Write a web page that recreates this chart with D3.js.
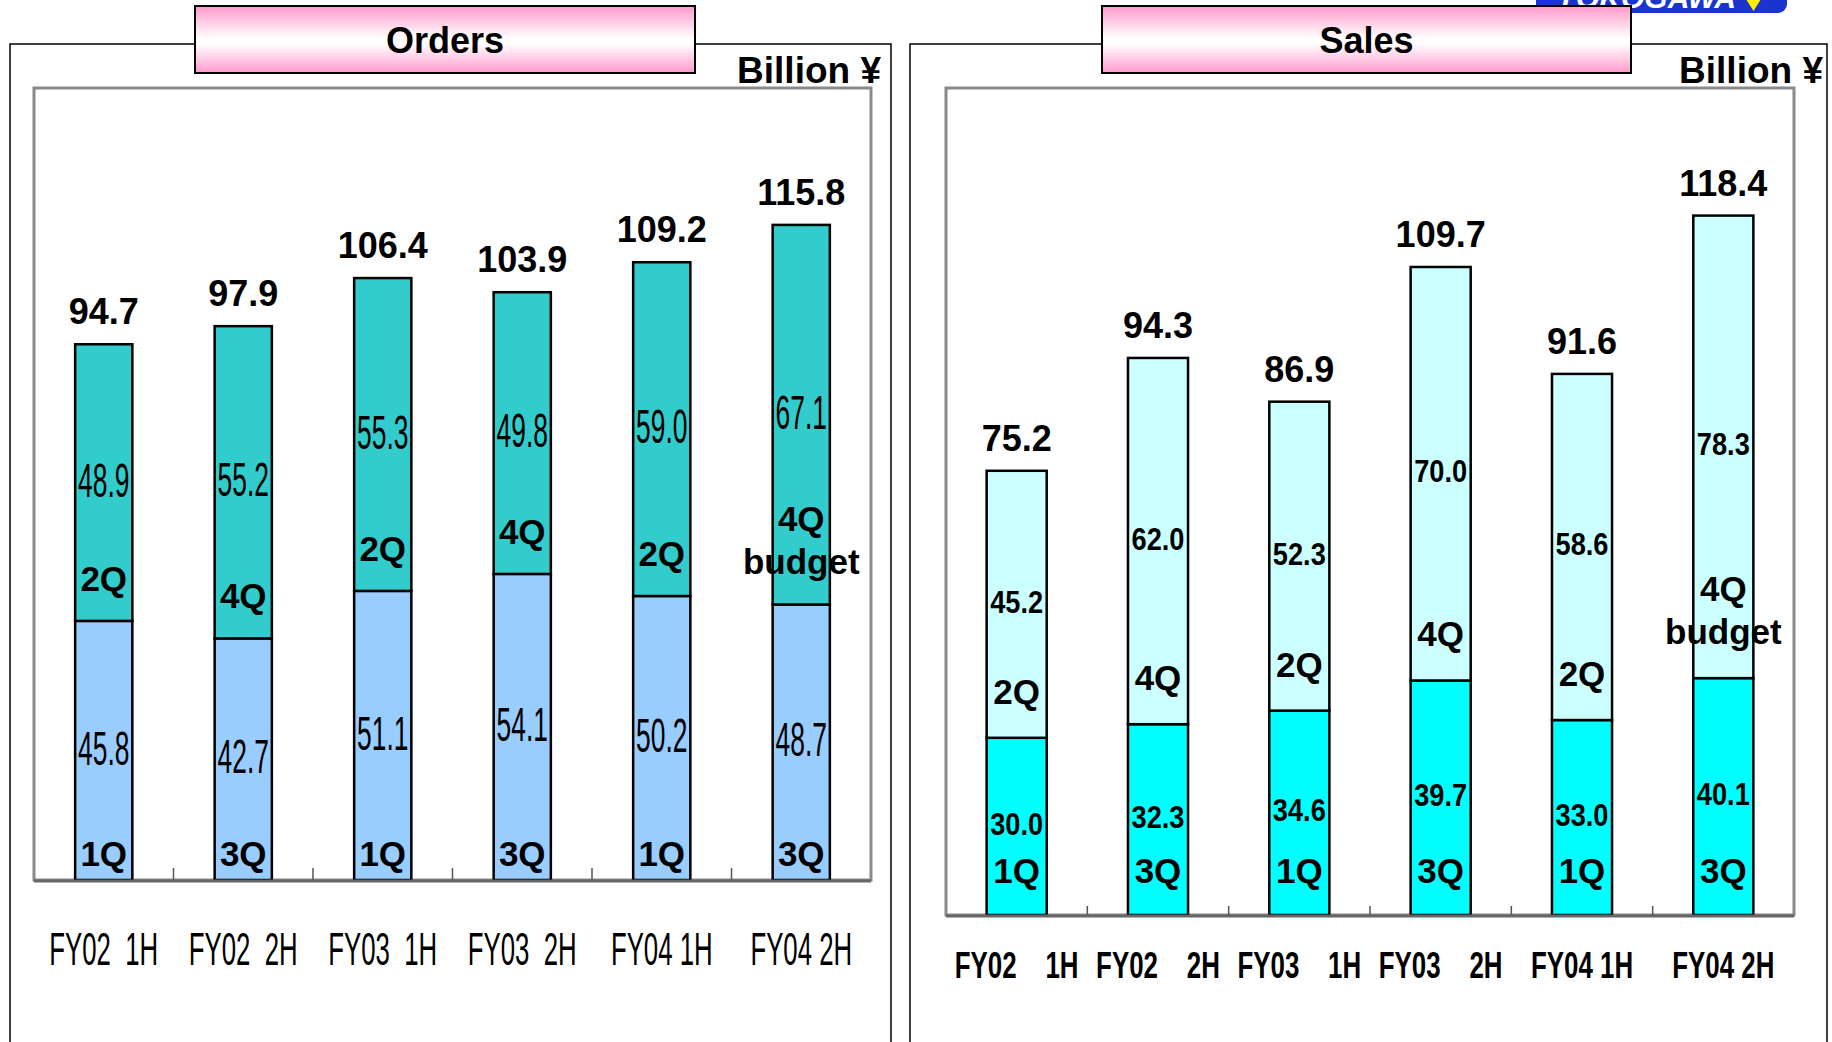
<!DOCTYPE html>
<html>
<head>
<meta charset="utf-8">
<script src="https://cdn.jsdelivr.net/npm/d3@7"></script>
<style>
  html, body { margin: 0; padding: 0; background: #fff; }
  svg text { font-family: "Liberation Sans", Arial, sans-serif; white-space: pre; }
</style>
</head>
<body>
<div id="chart"></div>
<script>
// categories (half years)
var categories = ["FY02  1H", "FY02  2H", "FY03  1H", "FY03  2H", "FY04 1H", "FY04 2H"];

// Orders, billion yen
var ordersLower = [45.8, 42.7, 51.1, 54.1, 50.2, 48.7];
var ordersUpper = [48.9, 55.2, 55.3, 49.8, 59.0, 67.1];
var ordersTotal = [94.7, 97.9, 106.4, 103.9, 109.2, 115.8];

// Sales, billion yen
var salesLower = [30.0, 32.3, 34.6, 39.7, 33.0, 40.1];
var salesUpper = [45.2, 62.0, 52.3, 70.0, 58.6, 78.3];
var salesTotal = [75.2, 94.3, 86.9, 109.7, 91.6, 118.4];

// quarter names written in the segments
var lowerQuarter = ["1Q", "3Q", "1Q", "3Q", "1Q", "3Q"];
var upperQuarter = [["2Q"], ["4Q"], ["2Q"], ["4Q"], ["2Q"], ["4Q", "budget"]];

var yMax = 140;

var W = 1832, H = 1042;
var svg = d3.select("#chart").append("svg")
  .attr("width", W)
  .attr("height", H);

// pink title gradient
var grad = svg.append("defs").append("linearGradient")
  .attr("id", "pink")
  .attr("x1", 0).attr("y1", 0).attr("x2", 0).attr("y2", 1);
grad.append("stop").attr("offset", "0%").attr("stop-color", "#ff99cc");
grad.append("stop").attr("offset", "48%").attr("stop-color", "#ffffff");
grad.append("stop").attr("offset", "56%").attr("stop-color", "#ffffff");
grad.append("stop").attr("offset", "100%").attr("stop-color", "#ff99cc");

// logo corner (mostly cut off at the top)
var logo = svg.append("g");
logo.append("rect")
  .attr("x", 1536).attr("y", -24)
  .attr("width", 251).attr("height", 37)
  .attr("rx", 9)
  .attr("fill", "#1a35cf");
logo.append("text")
  .attr("x", 1646).attr("y", 8)
  .attr("text-anchor", "middle")
  .attr("font-size", 30)
  .attr("font-weight", "bold")
  .attr("font-style", "italic")
  .attr("fill", "#ffffff")
  .text("YOKOGAWA");
logo.append("path")
  .attr("d", "M1744,-4 L1763,-4 L1753.5,11 Z")
  .attr("fill", "#ffee00");

// scaled text helper (the original uses stretched fonts)
function label(g, x, y, txt, size, weight, sx) {
  g.append("g")
    .attr("transform", "translate(" + x + "," + y + ") scale(" + sx + ",1)")
    .append("text")
    .attr("text-anchor", "middle")
    .attr("font-size", size)
    .attr("font-weight", weight)
    .attr("fill", "#000")
    .text(txt);
}

function drawPanel(cfg) {
  var g = svg.append("g");

  // outer frame, open at the bottom
  g.append("path")
    .attr("d", "M" + cfg.fx0 + "," + (H + 5) + " L" + cfg.fx0 + ",44 L" + cfg.fx1 + ",44 L" + cfg.fx1 + "," + (H + 5))
    .attr("fill", "none")
    .attr("stroke", "#000")
    .attr("stroke-width", 1.5);

  // title box
  g.append("rect")
    .attr("x", cfg.tx0).attr("y", 6)
    .attr("width", cfg.tx1 - cfg.tx0).attr("height", 67)
    .attr("fill", "url(#pink)")
    .attr("stroke", "#000")
    .attr("stroke-width", 2);
  g.append("text")
    .attr("x", (cfg.tx0 + cfg.tx1) / 2).attr("y", 53)
    .attr("text-anchor", "middle")
    .attr("font-size", 36)
    .attr("font-weight", "bold")
    .text(cfg.title);

  // unit
  g.append("text")
    .attr("x", cfg.unitX).attr("y", 83)
    .attr("text-anchor", "end")
    .attr("font-size", 37)
    .attr("font-weight", "bold")
    .text("Billion \u00a5");

  // plot area
  g.append("rect")
    .attr("x", cfg.px0).attr("y", cfg.py0)
    .attr("width", cfg.px1 - cfg.px0).attr("height", cfg.py1 - cfg.py0)
    .attr("fill", "#fff")
    .attr("stroke", "#8a8a8a")
    .attr("stroke-width", 3);

  var x = d3.scaleBand()
    .domain(categories)
    .range([cfg.px0, cfg.px1])
    .paddingInner(cfg.pad)
    .paddingOuter(cfg.pad / 2);
  var y = d3.scaleLinear()
    .domain([0, yMax])
    .range([cfg.py1, cfg.py0]);

  var step = x.step(), bw = x.bandwidth();

  // ticks between categories
  g.selectAll(".tick").data(categories.slice(1))
    .enter().append("line")
    .attr("x1", function(d) { return x(d) - (step - bw) / 2; })
    .attr("x2", function(d) { return x(d) - (step - bw) / 2; })
    .attr("y1", y(0))
    .attr("y2", y(0) - cfg.tickLen)
    .attr("stroke", "#555")
    .attr("stroke-width", 1.5);

  // bars
  var rows = categories.map(function(c, i) {
    return { cat: c, lo: cfg.lower[i], up: cfg.upper[i], tot: cfg.total[i], i: i };
  });

  g.selectAll(".lo").data(rows).enter().append("rect")
    .attr("x", function(d) { return x(d.cat); })
    .attr("y", function(d) { return y(d.lo); })
    .attr("width", bw)
    .attr("height", function(d) { return y(0) - y(d.lo); })
    .attr("fill", cfg.colLower)
    .attr("stroke", "#000")
    .attr("stroke-width", 2.5);

  g.selectAll(".up").data(rows).enter().append("rect")
    .attr("x", function(d) { return x(d.cat); })
    .attr("y", function(d) { return y(d.lo + d.up); })
    .attr("width", bw)
    .attr("height", function(d) { return y(d.lo) - y(d.lo + d.up); })
    .attr("fill", cfg.colUpper)
    .attr("stroke", "#000")
    .attr("stroke-width", 2.5);

  // base line
  g.append("line")
    .attr("x1", cfg.px0).attr("x2", cfg.px1)
    .attr("y1", y(0) + 1).attr("y2", y(0) + 1)
    .attr("stroke", "#666")
    .attr("stroke-width", 3);

  var vf = cfg.valueFont, cf = cfg.catFont;

  rows.forEach(function(d) {
    var cx = x(d.cat) + bw / 2;
    var capV = vf.size * 0.716;

    // segment values
    label(g, cx, (y(0) + y(d.lo)) / 2 + capV / 2 - 3, d.lo.toFixed(1), vf.size, vf.weight, vf.sx);
    label(g, cx, (y(d.lo) + y(d.lo + d.up)) / 2 + capV / 2 - 3, d.up.toFixed(1), vf.size, vf.weight, vf.sx);

    // quarter names
    label(g, cx, y(0) - cfg.loQ, lowerQuarter[d.i], 35, "bold", 1);
    var lines = upperQuarter[d.i];
    lines.slice().reverse().forEach(function(t, k) {
      label(g, cx, y(d.lo) - cfg.upQ - k * 43, t, 35, "bold", 1);
    });

    // totals
    label(g, cx, y(d.tot) - 20, d.tot.toFixed(1), 36, "bold", 1);

    // category
    label(g, cx, cf.y, d.cat.replace("  ", cf.gap), cf.size, cf.weight, cf.sx);
  });
}

drawPanel({
  title: "Orders",
  fx0: 10, fx1: 891,
  tx0: 195, tx1: 695,
  unitX: 881,
  px0: 34, px1: 871, py0: 88, py1: 880,
  pad: 0.59, tickLen: 12,
  lower: ordersLower, upper: ordersUpper, total: ordersTotal,
  colLower: "#99ccff", colUpper: "#33cccc",
  valueFont: { size: 48, weight: "normal", sx: 0.55 },
  catFont: { size: 46, weight: "normal", sx: 0.56, y: 965, gap: "  " },
  loQ: 14, upQ: 30
});

drawPanel({
  title: "Sales",
  fx0: 910, fx1: 1827,
  tx0: 1102, tx1: 1631,
  unitX: 1823,
  px0: 946, px1: 1794, py0: 88, py1: 915,
  pad: 0.575, tickLen: 9,
  lower: salesLower, upper: salesUpper, total: salesTotal,
  colLower: "#00ffff", colUpper: "#ccffff",
  valueFont: { size: 32, weight: "bold", sx: 0.85 },
  catFont: { size: 37, weight: "bold", sx: 0.70, y: 978, gap: "    " },
  loQ: 32, upQ: 34
});
</script>
</body>
</html>
